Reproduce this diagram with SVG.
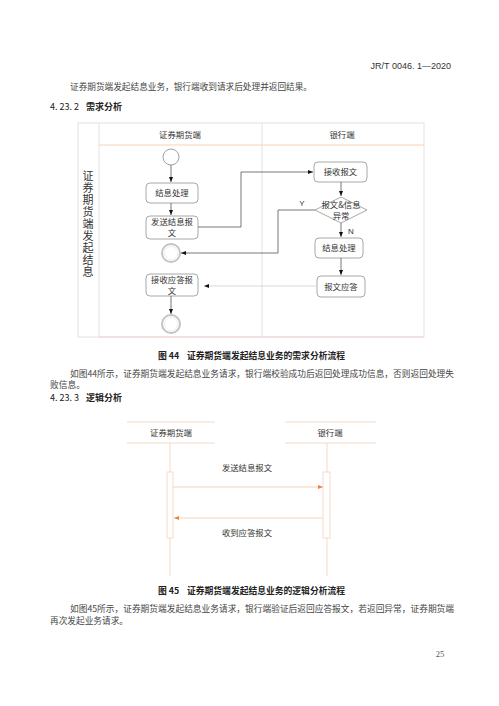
<svg xmlns="http://www.w3.org/2000/svg" width="499" height="706" viewBox="0 0 499 706">
<defs>
<style>
.body{font-family:"Noto Sans CJK SC","Liberation Serif",serif;font-size:8.6px;fill:#444}
.head{font-family:"Noto Sans CJK SC","Liberation Sans",sans-serif;font-size:9px;fill:#222}
.cap{font-family:"Noto Sans CJK SC","Liberation Sans",sans-serif;font-size:8.8px;fill:#222;font-weight:bold}
.lbl{font-family:"Noto Sans CJK SC","Liberation Sans",sans-serif;font-size:8.4px;fill:#333;text-anchor:middle}
.node{fill:#fff;stroke:#a8a8a8;stroke-width:1}
.lane{fill:none;stroke:#e2e2e2;stroke-width:1}
.conn{fill:none;stroke:#555;stroke-width:0.8}
.connl{fill:none;stroke:#cfcfcf;stroke-width:0.8}
.seq{fill:none;stroke:#f3d9c6;stroke-width:1}
.msg{fill:none;stroke:#f6cdb0;stroke-width:0.9}
</style>
<marker id="ah" viewBox="0 0 10 10" refX="10" refY="5" markerWidth="5" markerHeight="5" orient="auto" markerUnits="userSpaceOnUse">
<path d="M0,1 L10,5 L0,9 z" fill="#111"/>
</marker>
<marker id="ao" viewBox="0 0 10 10" refX="10" refY="5" markerWidth="6" markerHeight="5" orient="auto" markerUnits="userSpaceOnUse">
<path d="M0,1 L10,5 L0,9 z" fill="#e8843e"/>
</marker>
</defs>
<rect width="499" height="706" fill="#fff"/>

<text x="451" y="69" font-family="Liberation Sans, sans-serif" font-size="9" fill="#333" text-anchor="end">JR/T 0046. 1—2020</text>
<text class="body" x="70" y="90" textLength="242" lengthAdjust="spacingAndGlyphs">证券期货端发起结息业务，银行端收到请求后处理并返回结果。</text>
<text class="head" x="50" y="110">4. 23. 2</text>
<text class="head" x="86" y="110" font-weight="bold">需求分析</text>

<!-- swimlane frame -->
<g id="swimlane">
<rect class="lane" x="78" y="123" width="346" height="214"/>
<line class="lane" x1="99" y1="123" x2="99" y2="337"/>
<line class="lane" x1="262" y1="123" x2="262" y2="337"/>
<line x1="99" y1="145" x2="424" y2="145" stroke="#f8d2b6" stroke-width="1"/>
<line x1="99" y1="337" x2="424" y2="337" stroke="#f3d0d0" stroke-width="1"/>
<text class="lbl" x="180" y="138">证券期货端</text>
<text class="lbl" x="342" y="138">银行端</text>
<text x="88" y="170" font-family="Noto Sans CJK SC, sans-serif" font-size="11" fill="#333" style="writing-mode:vertical-rl" textLength="107" lengthAdjust="spacing">证券期货端发起结息</text>
</g>

<g id="start"><circle cx="171" cy="157" r="8" fill="#fff" stroke="#a0a0a0"/></g>
<g id="n1"><rect class="node" x="146" y="183" width="52" height="20" rx="4"/><text class="lbl" x="172" y="196">结息处理</text></g>
<g id="n2"><rect class="node" x="146" y="216" width="52" height="23" rx="4"/><text class="lbl" x="172" y="225">发送结息报</text><text class="lbl" x="172" y="236">文</text></g>
<g id="end1"><circle cx="171" cy="253" r="9" fill="#fff" stroke="#c4c4c4" stroke-width="2"/><circle cx="171" cy="253" r="6.5" fill="none" stroke="#e4e4e4" stroke-width="0.6"/></g>
<g id="n3"><rect class="node" x="146" y="274" width="52" height="22" rx="4"/><text class="lbl" x="172" y="283">接收应答报</text><text class="lbl" x="172" y="294">文</text></g>
<g id="end2"><circle cx="171" cy="324" r="9" fill="#fff" stroke="#c4c4c4" stroke-width="2"/><circle cx="171" cy="324" r="6.5" fill="none" stroke="#e4e4e4" stroke-width="0.6"/></g>

<g id="b1"><rect class="node" x="314" y="162" width="53" height="20" rx="4"/><text class="lbl" x="340.5" y="175">接收报文</text></g>
<g id="d1"><polygon class="node" points="341,197 367,210 341,223 315,210"/><text class="lbl" x="341" y="208">报文&amp;信息</text><text class="lbl" x="341" y="219">异常</text></g>
<g id="b2"><rect class="node" x="315" y="238" width="48" height="20" rx="4"/><text class="lbl" x="339" y="251">结息处理</text></g>
<g id="b3"><rect class="node" x="317" y="276" width="48" height="21" rx="4"/><text class="lbl" x="341" y="290">报文应答</text></g>

<g id="connectors">
<line class="conn" x1="171" y1="165" x2="171" y2="182" marker-end="url(#ah)"/>
<line class="conn" x1="171" y1="203" x2="171" y2="215" marker-end="url(#ah)"/>
<polyline class="conn" points="198,227 241,227 241,172 313,172" marker-end="url(#ah)"/>
<line class="conn" x1="341" y1="182" x2="341" y2="196" marker-end="url(#ah)"/>
<polyline class="conn" points="315,210 278,210 278,253 181,253" stroke="#777" marker-end="url(#ah)"/>
<line class="conn" x1="341" y1="223" x2="341" y2="237" marker-end="url(#ah)"/>
<line class="conn" x1="341" y1="258" x2="341" y2="275" marker-end="url(#ah)"/>
<line class="connl" x1="317" y1="286" x2="204" y2="286" marker-end="url(#ah)"/>
<line class="conn" x1="171" y1="296" x2="171" y2="314" marker-end="url(#ah)"/>
<text x="302" y="206" font-family="Liberation Sans, sans-serif" font-size="8" fill="#333" text-anchor="middle">Y</text>
<text x="351" y="234" font-family="Liberation Sans, sans-serif" font-size="8" fill="#333" text-anchor="middle">N</text>
</g>

<text class="cap" x="158" y="359">图 44</text>
<text class="cap" x="187" y="359" textLength="158" lengthAdjust="spacingAndGlyphs">证券期货端发起结息业务的需求分析流程</text>
<text class="body" x="70" y="377" textLength="384" lengthAdjust="spacingAndGlyphs">如图44所示，证券期货端发起结息业务请求，银行端校验成功后返回处理成功信息，否则返回处理失</text>
<text class="body" x="50" y="388" textLength="35" lengthAdjust="spacingAndGlyphs">败信息。</text>
<text class="head" x="50" y="401">4. 23. 3</text>
<text class="head" x="86" y="401" font-weight="bold">逻辑分析</text>

<!-- sequence diagram -->
<g id="p1">
<line class="seq" x1="127" y1="422" x2="215" y2="422"/>
<line class="seq" x1="127" y1="443" x2="215" y2="443"/>
<text class="lbl" x="171" y="436" font-size="8">证券期货端</text>
</g>
<g id="p2">
<line class="seq" x1="285" y1="422" x2="376" y2="422"/>
<line class="seq" x1="285" y1="443" x2="376" y2="443"/>
<text class="lbl" x="330" y="436" font-size="8">银行端</text>
</g>
<g id="lifelines">
<line class="seq" x1="170" y1="443" x2="170" y2="576"/>
<line class="seq" x1="327" y1="443" x2="327" y2="576"/>
<rect x="167" y="472" width="6" height="66" fill="#fff" stroke="#f0d3bf" stroke-width="0.8"/>
<rect x="323" y="472" width="7" height="66" fill="#fff" stroke="#f0d3bf" stroke-width="0.8"/>
</g>
<g id="messages">
<line class="msg" x1="173" y1="487" x2="323" y2="487" marker-end="url(#ao)"/>
<text class="lbl" x="247" y="471" font-size="8">发送结息报文</text>
<line class="msg" x1="323" y1="518" x2="174" y2="518" marker-end="url(#ao)"/>
<text class="lbl" x="247" y="536" font-size="8">收到应答报文</text>
</g>

<text class="cap" x="158" y="594">图 45</text>
<text class="cap" x="187" y="594" textLength="158" lengthAdjust="spacingAndGlyphs">证券期货端发起结息业务的逻辑分析流程</text>
<text class="body" x="70" y="612" textLength="384" lengthAdjust="spacingAndGlyphs">如图45所示，证券期货端发起结息业务请求，银行端验证后返回应答报文，若返回异常，证券期货端</text>
<text class="body" x="50" y="624" textLength="78" lengthAdjust="spacingAndGlyphs">再次发起业务请求。</text>

<text x="440" y="657" font-family="Liberation Serif, serif" font-size="8.5" fill="#555" text-anchor="middle">25</text>
</svg>
